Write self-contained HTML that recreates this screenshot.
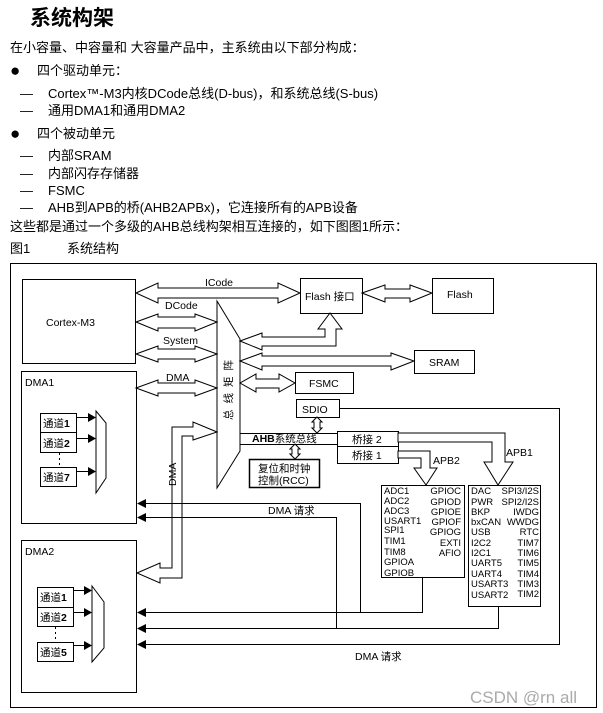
<!DOCTYPE html>
<html><head><meta charset="utf-8"><style>
html,body{margin:0;padding:0;background:#fff;}
body{width:603px;height:713px;position:relative;overflow:hidden;font-family:"Liberation Sans","Noto Sans CJK SC",sans-serif;}
.t{position:absolute;white-space:nowrap;font-size:13px;color:#000;line-height:16px;}
.b{font-size:17px;line-height:16px;}
</style></head><body>
<div class="t" style="left:30px;top:6px;font-size:21px;font-weight:bold;line-height:26px;">系统构架</div>
<div class="t" style="left:10px;top:40px;">在小容量、中容量和 大容量产品中，主系统由以下部分构成：</div>
<div class="t b" style="left:10px;top:63px;">●</div><div class="t" style="left:37px;top:63px;">四个驱动单元：</div>
<div class="t" style="left:20px;top:86px;">—</div><div class="t" style="left:48px;top:86px;">Cortex™-M3内核DCode总线(D-bus)，和系统总线(S-bus)</div>
<div class="t" style="left:20px;top:103px;">—</div><div class="t" style="left:48px;top:103px;">通用DMA1和通用DMA2</div>
<div class="t b" style="left:10px;top:126px;">●</div><div class="t" style="left:37px;top:126px;">四个被动单元</div>
<div class="t" style="left:20px;top:148px;">—</div><div class="t" style="left:48px;top:148px;">内部SRAM</div>
<div class="t" style="left:20px;top:166px;">—</div><div class="t" style="left:48px;top:166px;">内部闪存存储器</div>
<div class="t" style="left:20px;top:183px;">—</div><div class="t" style="left:48px;top:183px;">FSMC</div>
<div class="t" style="left:20px;top:200px;">—</div><div class="t" style="left:48px;top:200px;">AHB到APB的桥(AHB2APBx)，它连接所有的APB设备</div>
<div class="t" style="left:10px;top:219px;">这些都是通过一个多级的AHB总线构架相互连接的，如下图图1所示：</div>
<div class="t" style="left:10px;top:241px;">图1</div><div class="t" style="left:67px;top:241px;">系统结构</div>

<svg width="603" height="713" style="position:absolute;left:0;top:0" font-family="Liberation Sans, Noto Sans CJK SC, sans-serif" font-size="10.5">
<g fill="#fff" stroke="#000" stroke-width="1">
<rect x="10.5" y="263.5" width="586" height="444"/>
<rect x="22.5" y="279.5" width="113" height="84"/>
<rect x="21.5" y="371.5" width="115" height="152"/>
<rect x="21.5" y="540.5" width="115" height="152"/>
<rect x="300.5" y="278.5" width="62" height="35"/>
<rect x="432.5" y="278.5" width="61" height="35"/>
<rect x="414.5" y="350.5" width="60" height="23"/>
<rect x="295.5" y="372.5" width="58" height="21"/>
<rect x="296.5" y="399.5" width="43" height="18"/>
<rect x="337.5" y="431.5" width="61" height="15"/>
<rect x="337.5" y="446.5" width="61" height="17"/>
<rect x="249.5" y="459.5" width="70" height="28" stroke-width="1.5"/>
<rect x="381.5" y="485.5" width="83" height="92"/>
<rect x="468.5" y="485.5" width="72" height="121"/>
<polygon points="217,301 240,339 240,451 217,488"/>
<polygon points="136,293 158,283 158,288 278,288 278,283 300,293 278,303 278,298 158,298 158,303"/>
<polygon points="136,322 158,314 158,317 195,317 195,314 217,322 195,331 195,328 158,328 158,331"/>
<polygon points="136,354 158,346 158,349 195,349 195,346 217,354 195,362 195,359 158,359 158,362"/>
<polygon points="136,388 158,380 158,383 195,383 195,380 217,388 195,396 195,393 158,393 158,396"/>
<polygon points="362,293 385,285 385,289 410,289 410,285 432,293 410,302 410,298 385,298 385,302"/>
<polygon points="240,383 256,374 256,379 279,379 279,374 295,383 279,392 279,388 256,388 256,392"/>
<polygon points="240,361 262,353 262,356 391,356 391,353 414,361 391,370 391,366 262,366 262,370"/>
<polygon points="240,341 262,333 262,337 325,337 325,329 318,329 330,313 342,329 336,329 336,346 262,346 262,350"/>
<polygon points="137,573 160,563 160,568 172,568 172,427 193,427 193,422 217,432 193,440 193,436 182,436 182,578 160,578 160,583"/>
<rect x="40.5" y="413.5" width="36" height="19"/>
<rect x="40.5" y="432.5" width="36" height="20"/>
<rect x="40.5" y="467.5" width="36" height="19"/>
<rect x="37.5" y="587.5" width="36" height="20"/>
<rect x="37.5" y="607.5" width="36" height="19"/>
<rect x="37.5" y="642.5" width="36" height="19"/>
<polygon points="96,411 106,423 106,478 96,493"/>
<polygon points="92,586 104,602 104,648 92,662"/>
<polygon points="398,433 505,433 505,462 513,462 498,485 484,462 492,462 492,442 398,442"/>
<polygon points="398,451 430,451 430,468 437,468 426,485 414,468 421,468 421,458 398,458"/>
<polygon points="317,417 322,422 320,422 320,428 322,428 317,433 312,428 314,428 314,422 312,422"/>
<polygon points="295,444 300,449 298,449 298,454 300,454 295,459 290,454 292,454 292,449 290,449"/>
</g>
<g stroke="#000" stroke-width="1" fill="none">
<line x1="240" y1="433.5" x2="337" y2="433.5"/>
<line x1="240" y1="444.5" x2="337" y2="444.5"/>
<polyline points="339,408.5 559.5,408.5 559.5,644.5 145,644.5"/>
<polyline points="360.5,612.5 360.5,503.5 145,503.5"/>
<polyline points="336.5,628.5 336.5,517.5 145,517.5"/>
<polyline points="422.5,577 422.5,612.5 145,612.5"/>
<polyline points="498.5,606 498.5,628.5 145,628.5"/>
<line x1="77" y1="417.5" x2="89" y2="417.5"/>
<line x1="77" y1="438.5" x2="89" y2="438.5"/>
<line x1="77" y1="471.5" x2="89" y2="471.5"/>
<line x1="73" y1="590.5" x2="85" y2="590.5"/>
<line x1="73" y1="612.5" x2="85" y2="612.5"/>
<line x1="73" y1="645.5" x2="85" y2="645.5"/>
<line x1="59.5" y1="453" x2="59.5" y2="467" stroke-dasharray="2,3"/>
<line x1="55.5" y1="627" x2="55.5" y2="642" stroke-dasharray="2,3"/>
</g>
<g fill="#000">
<polygon points="137,503.5 146,499 146,508"/>
<polygon points="137,517.5 146,513 146,522"/>
<polygon points="137,612.5 146,608 146,617"/>
<polygon points="137,628.5 146,624 146,633"/>
<polygon points="137,644.5 146,640 146,649"/>
<polygon points="96,417.5 88,413 88,422"/>
<polygon points="96,438.5 88,434 88,443"/>
<polygon points="96,471.5 88,467 88,476"/>
<polygon points="92,590.5 84,586 84,595"/>
<polygon points="92,612.5 84,608 84,617"/>
<polygon points="92,645.5 84,641 84,650"/>
</g>
<g fill="#000">
<text x="46" y="326">Cortex-M3</text>
<text x="25" y="386">DMA1</text>
<text x="25" y="555">DMA2</text>
<text x="205" y="286">ICode</text>
<text x="165" y="309">DCode</text>
<text x="163" y="344">System</text>
<text x="166" y="381">DMA</text>
<text x="305" y="300">Flash 接口</text>
<text x="447" y="298">Flash</text>
<text x="429" y="366">SRAM</text>
<text x="309" y="387">FSMC</text>
<text x="302" y="413">SDIO</text>
<text x="252" y="442" font-weight="bold">AHB<tspan font-weight="normal">系统总线</tspan></text>
<text x="352" y="443">桥接 2</text>
<text x="352" y="459">桥接 1</text>
<text x="258" y="472">复位和时钟</text>
<text x="258" y="484">控制(RCC)</text>
<text x="433" y="464">APB2</text>
<text x="506" y="456">APB1</text>
<text x="268" y="514">DMA 请求</text>
<text x="355" y="660">DMA 请求</text>
<text transform="translate(176,486) rotate(-90)">DMA</text>
<text transform="translate(232,420) rotate(-90)" letter-spacing="6">总线矩阵</text>
<text x="43" y="427">通道<tspan font-weight="bold">1</tspan></text>
<text x="43" y="447">通道<tspan font-weight="bold">2</tspan></text>
<text x="43" y="481">通道<tspan font-weight="bold">7</tspan></text>
<text x="40" y="601">通道<tspan font-weight="bold">1</tspan></text>
<text x="40" y="621">通道<tspan font-weight="bold">2</tspan></text>
<text x="40" y="656">通道<tspan font-weight="bold">5</tspan></text>
</g>
<g fill="#000" font-size="9.5">
<text x="384" y="494">ADC1</text><text x="384" y="504">ADC2</text><text x="384" y="514">ADC3</text>
<text x="384" y="524">USART1</text><text x="384" y="533">SPI1</text><text x="384" y="544">TIM1</text>
<text x="384" y="555">TIM8</text><text x="384" y="565">GPIOA</text><text x="384" y="576">GPIOB</text>
<g text-anchor="end">
<text x="461" y="494">GPIOC</text><text x="461" y="505">GPIOD</text><text x="461" y="515">GPIOE</text>
<text x="461" y="525">GPIOF</text><text x="461" y="535">GPIOG</text><text x="461" y="546">EXTI</text><text x="461" y="556">AFIO</text>
<text x="539" y="494">SPI3/I2S</text><text x="539" y="505">SPI2/I2S</text><text x="539" y="515">IWDG</text>
<text x="539" y="525">WWDG</text><text x="539" y="535">RTC</text><text x="539" y="546">TIM7</text>
<text x="539" y="556">TIM6</text><text x="539" y="566">TIM5</text><text x="539" y="577">TIM4</text>
<text x="539" y="587">TIM3</text><text x="539" y="597">TIM2</text>
</g>
<text x="471" y="494">DAC</text><text x="471" y="505">PWR</text><text x="471" y="515">BKP</text>
<text x="471" y="525">bxCAN</text><text x="471" y="535">USB</text><text x="471" y="546">I2C2</text>
<text x="471" y="556">I2C1</text><text x="471" y="566">UART5</text><text x="471" y="577">UART4</text>
<text x="471" y="587">USART3</text><text x="471" y="598">USART2</text>
</g>
<text x="470" y="703" font-size="17" fill="#aaa">CSDN @rn all</text>
</svg>
</body></html>
